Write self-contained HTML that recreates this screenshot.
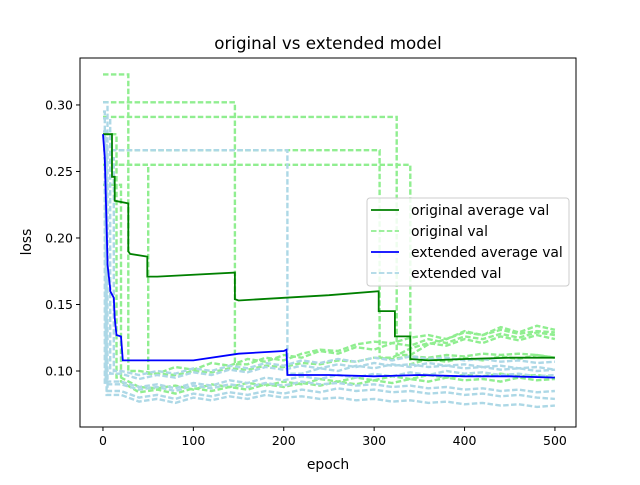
<!DOCTYPE html>
<html><head><meta charset="utf-8"><style>
body{margin:0;background:#fff}
svg text{font-family:"DejaVu Sans","Liberation Sans",sans-serif;fill:#000}
</style></head><body>
<svg id="chart" width="640" height="480" viewBox="0 0 640 480" xmlns="http://www.w3.org/2000/svg">
<rect width="640" height="480" fill="#fff"/>
<text x="328" y="49" font-size="16.7" text-anchor="middle">original vs extended model</text>
<g id="plot"></g>
<g id="axes"></g>
<text x="328" y="469" font-size="13.9" text-anchor="middle">epoch</text>
<text transform="translate(31,242) rotate(-90)" font-size="13.9" text-anchor="middle">loss</text>
<g>
<rect x="367" y="198" width="202" height="88" rx="3" fill="#fff" fill-opacity="0.85" stroke="#ccc"/>
<line x1="371" y1="210" x2="399" y2="210" stroke="green" stroke-width="1.8"/>
<text x="411" y="215" font-size="13.9">original average val</text>
<line x1="371" y1="231" x2="399" y2="231" stroke="#90ee90" stroke-width="1.8" stroke-dasharray="5.5,2.4"/>
<text x="411" y="236" font-size="13.9">original val</text>
<line x1="371" y1="252" x2="399" y2="252" stroke="blue" stroke-width="1.8"/>
<text x="411" y="257" font-size="13.9">extended average val</text>
<line x1="371" y1="273" x2="399" y2="273" stroke="#add8e6" stroke-width="1.8" stroke-dasharray="5.5,2.4"/>
<text x="411" y="278" font-size="13.9">extended val</text>
</g>
</svg>
<script>
const gridEpochs=[0,20,40,60,80,100,120,140,160,180,200,220,240,260,280,300,320,340,360,380,400,420,440,460,480,500];
const origPlateau=[0.323,0.302,0.291,0.278,0.266,0.255,0.255,0.24];
const origDrop=[28,146,325,15,306,50,340,20];
const origRuns=[
[null,null,.100,.098,.103,.101,.106,.104,.109,.107,.112,.110,.115,.113,.118,.116,.121,.119,.124,.121,.126,.124,.128,.125,.129,.127],
[null,null,null,null,null,null,null,null,.105,.110,.108,.113,.116,.115,.120,.122,.121,.125,.127,.124,.129,.127,.131,.128,.130,.129],
[null,null,null,null,null,null,null,null,null,null,null,null,null,null,null,null,null,.112,.120,.124,.130,.127,.133,.129,.134,.131],
[null,.095,.088,.087,.089,.086,.090,.088,.091,.089,.092,.090,.094,.092,.095,.093,.096,.094,.097,.095,.097,.096,.098,.096,.097,.095],
[null,null,null,null,null,null,null,null,null,null,null,null,null,null,null,null,.110,.117,.121,.119,.124,.121,.126,.123,.127,.124],
[null,null,null,.098,.097,.100,.099,.102,.101,.104,.103,.106,.105,.108,.107,.110,.109,.111,.110,.112,.111,.113,.112,.113,.112,.110],
[null,null,null,null,null,null,null,null,null,null,null,null,null,null,null,null,null,.105,.109,.107,.110,.108,.111,.109,.112,.110],
[null,.092,.084,.086,.083,.087,.085,.088,.086,.090,.088,.091,.089,.092,.090,.093,.091,.094,.092,.095,.093,.094,.092,.095,.093,.094]
];
const extPlateau=[0.302,0.266,0.28,0.29,0.27,0.26,0.295];
const extDrop=[5,204,3,8,4,12,2];
const extRuns=[
[null,.085,.080,.082,.079,.083,.081,.084,.082,.085,.083,.086,.084,.087,.085,.086,.084,.085,.083,.084,.082,.083,.081,.082,.080,.079],
[null,null,null,null,null,null,null,null,null,null,null,.098,.102,.100,.104,.102,.105,.103,.106,.104,.105,.103,.104,.102,.103,.101],
[null,.092,.088,.090,.087,.091,.089,.093,.091,.095,.093,.096,.094,.097,.095,.098,.096,.099,.097,.100,.098,.099,.097,.098,.096,.097],
[null,.098,.094,.097,.095,.099,.097,.101,.099,.103,.101,.104,.102,.105,.103,.106,.104,.105,.103,.104,.102,.103,.101,.102,.100,.101],
[null,.082,.077,.079,.076,.080,.078,.081,.079,.082,.080,.081,.079,.080,.078,.079,.077,.078,.076,.077,.075,.076,.074,.075,.073,.074],
[null,.100,.097,.100,.098,.102,.100,.104,.102,.106,.104,.108,.106,.109,.107,.110,.108,.111,.109,.110,.108,.109,.107,.108,.106,.107],
[null,.090,.086,.088,.085,.089,.087,.090,.088,.091,.089,.092,.090,.091,.089,.090,.088,.089,.087,.088,.086,.087,.085,.086,.084,.085]
];
const origAvgX=[0,10,10,13,13,28,28,30,49,49,60,146,146,150,200,250,305,305,323,323,340,340,360,400,450,500];
const origAvgY=[.278,.278,.246,.246,.228,.226,.190,.188,.186,.171,.171,.174,.154,.153,.155,.157,.160,.145,.145,.126,.126,.109,.108,.109,.110,.110];
const extAvgX=[0,2,5,5,8,8,12,13,15,15,20,22,60,100,150,200,203,204,250,300,350,400,450,500];
const extAvgY=[.278,.260,.183,.180,.162,.160,.155,.140,.127,.127,.126,.108,.108,.108,.113,.115,.116,.097,.097,.096,.097,.096,.096,.095];
const xTicks=[0,100,200,300,400,500];
const yTicks=[0.10,0.15,0.20,0.25,0.30];

const L=80,R=576,T=58,B=427,xmin=-25.4,xmax=523.3,ymin=0.0579,ymax=0.3353;
const sx=v=>L+(v-xmin)/(xmax-xmin)*(R-L);
const sy=v=>B-(v-ymin)/(ymax-ymin)*(B-T);
const NS='http://www.w3.org/2000/svg';
const plot=document.getElementById('plot'),axes=document.getElementById('axes');
function mk(tag,attrs,parent){const e=document.createElementNS(NS,tag);for(const k in attrs)e.setAttribute(k,attrs[k]);parent.appendChild(e);return e;}
function runPts(pl,d,vals){const p=[[0,pl],[d,pl]];let first=true;
 vals.forEach((v,i)=>{if(v===null)return;if(first){p.push([d,v]);first=false;}p.push([gridEpochs[i],v]);});
 return p.map(q=>sx(q[0]).toFixed(1)+','+sy(q[1]).toFixed(1)).join(' ');}
origRuns.forEach((r,i)=>{
 const e=mk('polyline',{points:runPts(origPlateau[i],origDrop[i],r),fill:'none',stroke:'#90ee90','stroke-width':2.4,'stroke-dasharray':'5.5,2.4'},plot);
 
 
});
extRuns.forEach((r,i)=>{
 const e=mk('polyline',{points:runPts(extPlateau[i],extDrop[i],r),fill:'none',stroke:'#add8e6','stroke-width':2.4,'stroke-dasharray':'5.5,2.4'},plot);
 
 
});
const oa=mk('polyline',{points:origAvgX.map((x,i)=>sx(x).toFixed(1)+','+sy(origAvgY[i]).toFixed(1)).join(' '),fill:'none',stroke:'green','stroke-width':1.8},plot);


const ea=mk('polyline',{points:extAvgX.map((x,i)=>sx(x).toFixed(1)+','+sy(extAvgY[i]).toFixed(1)).join(' '),fill:'none',stroke:'blue','stroke-width':1.8},plot);


mk('rect',{x:L,y:T,width:R-L,height:B-T,fill:'none',stroke:'#000','stroke-width':1},axes);
xTicks.forEach(t=>{const x=sx(t);mk('line',{x1:x,y1:B,x2:x,y2:B+4,stroke:'#000'},axes);
 const tx=mk('text',{x:x,y:B+18,'font-size':12.5,'text-anchor':'middle'},axes);tx.textContent=t;
 
 });
yTicks.forEach(t=>{const y=sy(t);mk('line',{x1:L-4,y1:y,x2:L,y2:y,stroke:'#000'},axes);
 const tx=mk('text',{x:L-7,y:y+4.5,'font-size':12.5,'text-anchor':'end'},axes);tx.textContent=t.toFixed(2);
 
 });
</script>
</body></html>
